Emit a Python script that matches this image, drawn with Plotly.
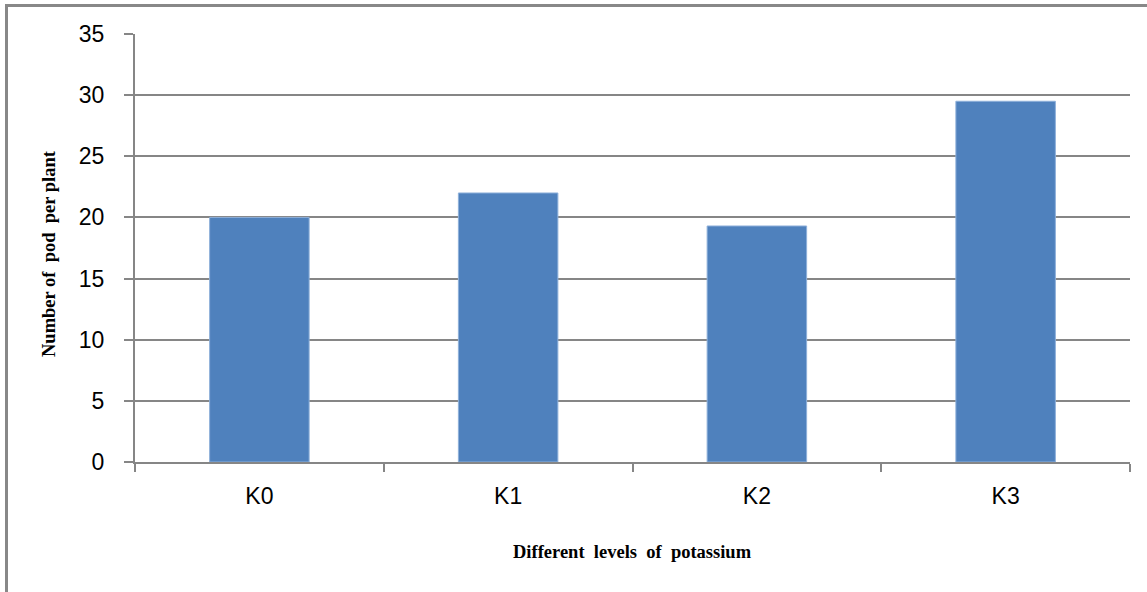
import plotly.graph_objects as go

categories = ["K0", "K1", "K2", "K3"]
pods_per_plant = [20.0, 22.0, 19.3, 29.5]
y_ticks = [0, 5, 10, 15, 20, 25, 30, 35]
NB = "\u00a0"
x_title = f"Different {NB}levels {NB}of {NB}potassium"
y_title = f"Number of {NB}pod {NB}per plant"

W, H = 1147, 592
L, R, T, B = 135, 17, 34, 130
pw, ph = W - L - R, H - T - B

fig = go.Figure(go.Bar(
    x=categories, y=pods_per_plant,
    marker=dict(color="#4F81BD", line=dict(color="#8EB0DA", width=1)),
    width=0.4,
))

axis_col = "#868686"
tick_font = dict(family="Liberation Sans, Arial", size=23, color="black")
title_font = dict(family="Liberation Serif, Times New Roman", size=18.5, color="black", weight="bold")
fig.update_layout(
    width=W, height=H,
    margin=dict(l=L, r=R, t=T, b=B, autoexpand=False),
    paper_bgcolor="white", plot_bgcolor="white",
    showlegend=False,
    xaxis=dict(
        type="category", tickson="boundaries", ticks="outside", ticklen=8,
        tickcolor=axis_col, tickwidth=2,
        showline=True, linecolor=axis_col, linewidth=2,
        showgrid=False,
        tickfont=tick_font,
        ticklabelstandoff=12,
    ),
    yaxis=dict(
        range=[0, 35], tickvals=y_ticks, ticks="outside", ticklen=9,
        tickcolor=axis_col, tickwidth=2,
        showline=True, linecolor=axis_col, linewidth=2,
        showgrid=True, gridcolor=axis_col, gridwidth=2,
        zeroline=False,
        tickfont=tick_font,
        ticklabelstandoff=15,
    ),
    annotations=[
        dict(text=x_title, xref="paper", yref="paper", x=0.5, y=-(552 - (T + ph)) / ph,
             showarrow=False, xanchor="center", yanchor="middle", font=title_font),
        dict(text=y_title, xref="paper", yref="paper", x=(49 - L) / pw, y=(T + ph - 254) / ph,
             showarrow=False, xanchor="center", yanchor="middle", textangle=-90, font=title_font),
    ],
    shapes=[
        dict(type="line", xref="paper", yref="paper",
             x0=(6.5 - L) / pw, x1=(6.5 - L) / pw, y0=(T + ph - 5) / ph, y1=(T + ph - H) / ph,
             line=dict(color="#888888", width=3)),
        dict(type="line", xref="paper", yref="paper",
             x0=(5 - L) / pw, x1=(W - L) / pw, y0=(T + ph - 5.5) / ph, y1=(T + ph - 5.5) / ph,
             line=dict(color="#888888", width=3)),
    ],
)

fig.write_html("out.html", config={"displayModeBar": False},
               post_script="document.body.style.margin='0';document.body.style.overflow='hidden';")
